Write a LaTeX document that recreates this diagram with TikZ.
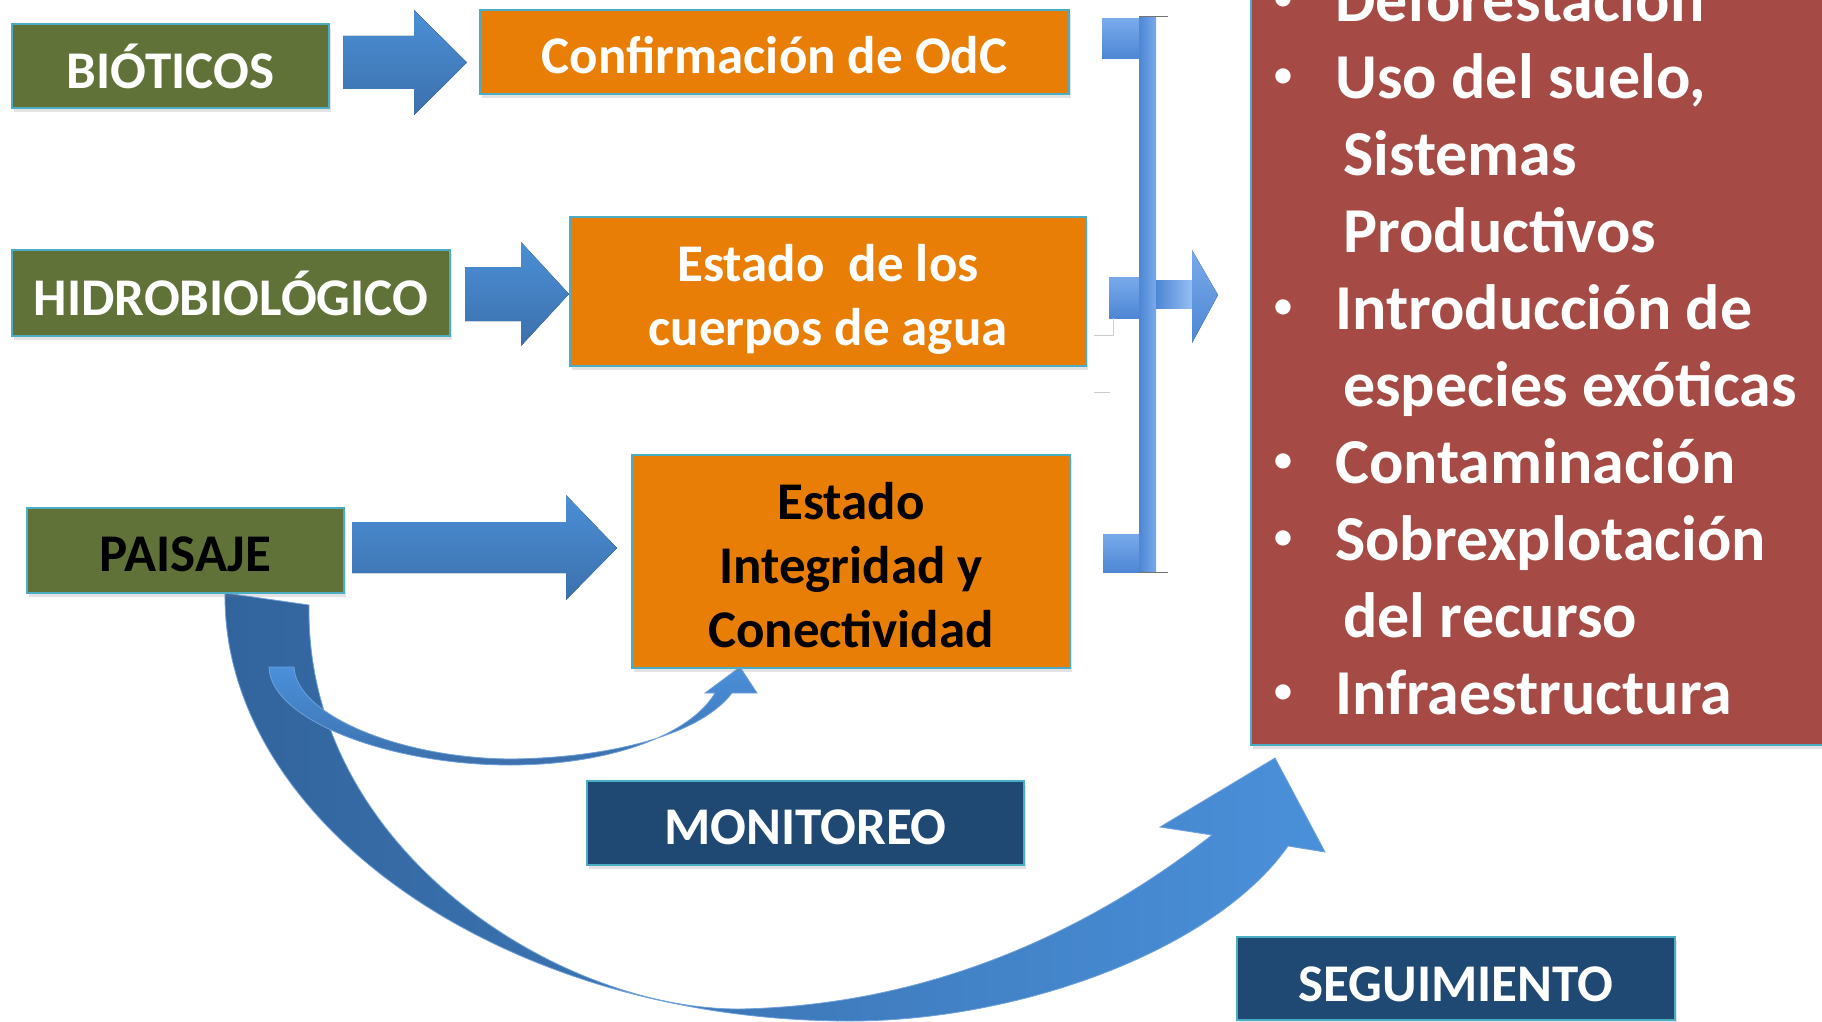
\documentclass[tikz,border=0pt]{standalone}
\usepackage{fontspec}
\setmainfont{Carlito}
\usetikzlibrary{shadows}
\definecolor{boxgreen}{RGB}{96,114,56}
\definecolor{boxorange}{RGB}{233,126,6}
\definecolor{boxred}{RGB}{165,74,68}
\definecolor{boxnavy}{RGB}{31,73,115}
\definecolor{edgeblue}{RGB}{75,172,198}
\definecolor{arrtop}{RGB}{75,143,214}
\definecolor{arrbot}{RGB}{60,112,172}
\definecolor{arrdark}{RGB}{50,100,156}
\definecolor{arrlight}{RGB}{74,144,218}
\definecolor{arredge}{RGB}{110,160,220}
\definecolor{barmid}{RGB}{78,134,212}
\definecolor{barlight}{RGB}{120,170,235}
\definecolor{shaftlight}{RGB}{152,192,245}
\begin{document}
\begin{tikzpicture}[x=1pt,y=-1pt,
  box/.style={draw=edgeblue, line width=1.5pt, inner sep=0pt,
     drop shadow={shadow xshift=2pt, shadow yshift=-4pt, opacity=0.22}},
  boxtext/.style={inner sep=0pt, align=center, font=\fontsize{53}{64}\selectfont\bfseries},
  greenbox/.style={box, fill=boxgreen},
  orangebox/.style={box, fill=boxorange},
  navybox/.style={box, fill=boxnavy},
  blockarrow/.style={top color=arrtop, bottom color=arrbot, draw=none},
  risk/.style={text=white, inner sep=0pt, font=\fontsize{64}{77}\selectfont\bfseries},
  riskdot/.style={text=white, inner sep=0pt, font=\fontsize{36}{40}\selectfont\bfseries},
]
\useasboundingbox (0,0) rectangle (1822,1022);
\clip (0,0) rectangle (1822,1022);

% straight block arrows
\fill[blockarrow] (343,36) -- (414,36) -- (414,10) -- (467,62.5) -- (414,115) -- (414,89) -- (343,89) -- cycle;
\fill[blockarrow] (465,267) -- (521,267) -- (521,242) -- (569,294) -- (521,346) -- (521,321) -- (465,321) -- cycle;
\fill[blockarrow] (352,522) -- (566,522) -- (566,495) -- (617,548) -- (566,600) -- (566,573) -- (352,573) -- cycle;

% big curved arrow (seguimiento)
\shade[left color=arrdark, right color=arrlight, draw=arredge, line width=0.8pt]
  (225,593) .. controls (222,820) and (500,1021) .. (850,1021)
  .. controls (1020,1021) and (1215,950) .. (1288,846)
  -- (1325,852) -- (1275,758) -- (1160,827) -- (1212,835)
  .. controls (1110,915) and (950,1005) .. (740,1009)
  .. controls (560,1010) and (305,850) .. (309,605) -- cycle;

% small curved arrow (monitoreo)
\shade[top color=arrlight, bottom color=arrbot, draw=arredge, line width=0.8pt]
  (269,667) .. controls (270,720) and (390,765) .. (510,765)
  .. controls (610,765) and (690,735) .. (715,693)
  -- (705,693) -- (740,667) -- (757,693) -- (732,693)
  .. controls (700,735) and (610,758) .. (510,759)
  .. controls (400,758) and (296,715) .. (294,667) -- cycle;

% boxes
\node[greenbox, minimum width=317pt, minimum height=84pt,
  label={[boxtext, text=white]center:BIÓTICOS}] (bio) at (170.5,66) {};
\node[greenbox, minimum width=438pt, minimum height=86pt,
  label={[boxtext, text=white]center:HIDROBIOLÓGICO}] (hidro) at (231,293) {};
\node[greenbox, minimum width=317pt, minimum height=85pt,
  label={[boxtext, text=black, yshift=-4pt]center:PAISAJE}] (pais) at (185.5,550.5) {};
\node[orangebox, minimum width=589pt, minimum height=84pt,
  label={[boxtext, text=white, yshift=-3pt]center:Confirmación de OdC}] (conf) at (774.5,52) {};
\node[orangebox, minimum width=516pt, minimum height=149pt,
  label={[boxtext, text=white, yshift=-8pt]center:{Estado~~de los\\cuerpos de agua}}] (agua) at (828,291.5) {};
\node[orangebox, minimum width=438pt, minimum height=213pt,
  label={[boxtext, text=black, yshift=-4pt]center:{Estado\\Integridad y\\Conectividad}}] (integ) at (851,561.5) {};
\node[navybox, minimum width=437pt, minimum height=84pt,
  label={[boxtext, text=white, yshift=-4pt]center:MONITOREO}] (moni) at (805.5,823) {};
\node[navybox, minimum width=438pt, minimum height=83pt,
  label={[boxtext, text=white, yshift=-6pt]center:SEGUIMIENTO}] (segui) at (1456,978.5) {};

% bracket
\fill[left color=barmid, right color=barlight] (1139,17) rectangle (1156,572);
\fill[top color=barlight, bottom color=barmid] (1102,19) rectangle (1139,59);
\fill[top color=barlight, bottom color=barmid] (1109,277) rectangle (1139,318);
\fill[top color=barlight, bottom color=barmid] (1103,534) rectangle (1139,572);
\fill[left color=barmid, right color=shaftlight] (1156,280) rectangle (1193,308);
\fill[top color=barlight, bottom color=barmid] (1192,250) -- (1218,295) -- (1192,343) -- cycle;
\draw[line width=1pt, black!55] (1139,17) -- (1168,17);
\draw[line width=1pt, black!55] (1139,572) -- (1168,572);
\draw[line width=0.8pt, gray!40] (1113,318) -- (1113,335) -- (1094,335);
\draw[line width=0.8pt, gray!40] (1094,392) -- (1110,392);

% risk box
\node[draw=edgeblue, line width=1.5pt, fill=boxred, minimum width=600pt, minimum height=780pt, inner sep=0pt,
      drop shadow={shadow xshift=2pt, shadow yshift=-4pt, opacity=0.22}] (riskbox) at (1551,355) {};

\node[riskdot] (b1) at (1283,0.5) {•};
\node[riskdot] (b2) at (1283,77.5) {•};
\node[riskdot] (b3) at (1283,308.5) {•};
\node[riskdot] (b4) at (1283,462.5) {•};
\node[riskdot] (b5) at (1283,539.5) {•};
\node[riskdot] (b6) at (1283,693.5) {•};

\node[risk, anchor=base west] (r1) at (1335,21.5) {Deforestación};
\node[risk, anchor=base west] (r2) at (1335,98.5) {Uso del suelo,};
\node[risk, anchor=base west] (r3) at (1343,175.5) {Sistemas};
\node[risk, anchor=base west] (r4) at (1343,252.5) {Productivos};
\node[risk, anchor=base west] (r5) at (1335,329.5) {Introducción de};
\node[risk, anchor=base west] (r6) at (1343,406.5) {especies exóticas};
\node[risk, anchor=base west] (r7) at (1335,483.5) {Contaminación};
\node[risk, anchor=base west] (r8) at (1335,560.5) {Sobrexplotación};
\node[risk, anchor=base west] (r9) at (1343,637.5) {del recurso};
\node[risk, anchor=base west] (r10) at (1335,714.5) {Infraestructura};
\end{tikzpicture}
\end{document}
